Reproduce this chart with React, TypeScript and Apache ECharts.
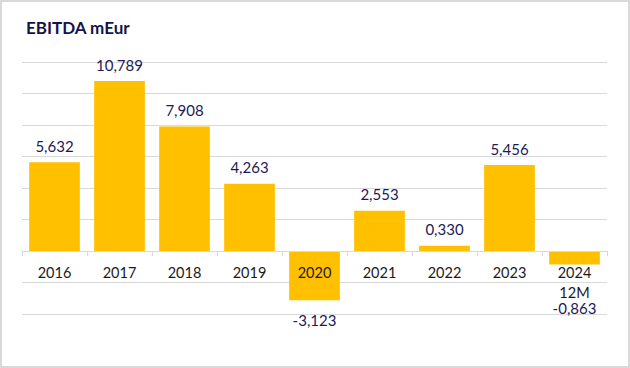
import React, { useEffect, useRef } from "react";
import * as echarts from "echarts";

const categories = ["2016", "2017", "2018", "2019", "2020", "2021", "2022", "2023", "2024\n12M"];
const ebitda = [5.632, 10.789, 7.908, 4.263, -3.123, 2.553, 0.33, 5.456, -0.863];
const negLabelDistance = [12, 12, 12, 12, 12, 12, 12, 12, 36];
const title = "EBITDA mEur";

const fmt = (v: number) => v.toFixed(3).replace(".", ",");

export default function App() {
  const ref = useRef<HTMLDivElement>(null);
  useEffect(() => {
    document.body.style.margin = "0";
    const chart = echarts.init(ref.current!, undefined, { renderer: "svg" });
    const data = ebitda.map((v, i) => ({
      value: v,
      label: v < 0 ? { position: "bottom", distance: negLabelDistance[i] } : { position: "top", distance: 9 },
    }));
    chart.setOption({
      animation: false,
      backgroundColor: "#ffffff",
      title: {
        text: title,
        left: 21,
        top: 14,
        textStyle: { fontFamily: "Lato", fontWeight: "bold", fontSize: 17, color: "#14144b" },
      },
      grid: { left: 22, right: 23, top: 62, bottom: 54, containLabel: false },
      xAxis: {
        type: "category",
        data: categories,
        z: 3,
        offset: -63,
        axisLine: { onZero: false, lineStyle: { color: "#d9d9d9", width: 1 } },
        axisTick: { show: true, length: 5, lineStyle: { color: "#d9d9d9" } },
        axisLabel: {
          fontFamily: "Lato",
          fontSize: 14.5,
          color: "#1a1a1a",
          margin: 11,
          lineHeight: 20,
          verticalAlign: "top",
        },
      },
      yAxis: {
        type: "value",
        min: -4,
        max: 12,
        interval: 2,
        axisLabel: { show: false },
        axisLine: { show: false },
        axisTick: { show: false },
        splitLine: { lineStyle: { color: "#d9d9d9", width: 1 } },
      },
      series: [
        {
          type: "bar",
          data,
          barCategoryGap: "22%",
          itemStyle: { color: "#FFC000" },
          label: {
            show: true,
            fontFamily: "Lato",
            fontSize: 15,
            lineHeight: 15,
            color: "#1b1b55",
            formatter: (p: any) => fmt(p.value),
          },
        },
      ],
      graphic: [
        {
          type: "rect",
          shape: { x: 1, y: 1, width: 628, height: 366 },
          style: { fill: "none", stroke: "#d9d9d9", lineWidth: 2 },
          silent: true,
        },
      ],
    });
    return () => chart.dispose();
  }, []);
  return <div ref={ref} style={{ position: "absolute", left: 0, top: 0, width: 630, height: 368 }} />;
}
